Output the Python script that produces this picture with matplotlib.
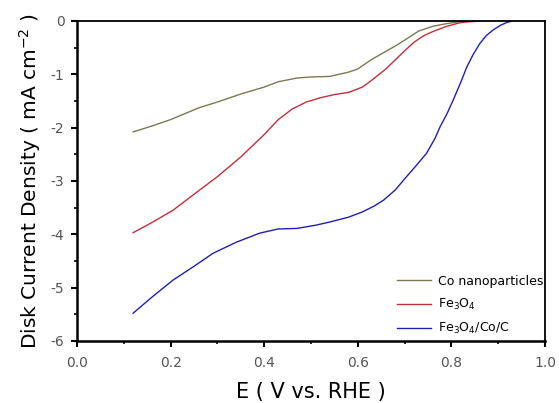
import matplotlib
matplotlib.use("Agg")
import matplotlib.pyplot as plt
from matplotlib.ticker import MultipleLocator, FuncFormatter

plt.rcParams['font.family'] = ['DejaVu Sans']
plt.rcParams['mathtext.fontset'] = 'dejavusans'

co_x = [0.12, 0.16, 0.20, 0.26, 0.30, 0.35, 0.40, 0.43, 0.47, 0.50, 0.54, 0.58, 0.60, 0.63, 0.66, 0.68, 0.70, 0.73, 0.76, 0.79, 0.82, 0.86]
co_y = [-2.08, -1.97, -1.85, -1.63, -1.52, -1.37, -1.24, -1.14, -1.07, -1.05, -1.04, -0.96, -0.90, -0.72, -0.57, -0.47, -0.36, -0.19, -0.10, -0.05, -0.01, 0.0]

fe_x = [0.12, 0.16, 0.205, 0.25, 0.30, 0.35, 0.40, 0.43, 0.46, 0.49, 0.52, 0.55, 0.58, 0.61, 0.63, 0.66, 0.68, 0.70, 0.72, 0.74, 0.76, 0.79, 0.82, 0.86]
fe_y = [-3.97, -3.78, -3.55, -3.25, -2.92, -2.55, -2.13, -1.85, -1.65, -1.52, -1.44, -1.38, -1.34, -1.24, -1.11, -0.90, -0.73, -0.56, -0.40, -0.28, -0.20, -0.10, -0.03, 0.0]

fec_x = [0.12, 0.16, 0.205, 0.25, 0.29, 0.34, 0.39, 0.43, 0.47, 0.51, 0.54, 0.58, 0.61, 0.635, 0.655, 0.68, 0.704, 0.725, 0.747, 0.765, 0.776, 0.79, 0.804, 0.82, 0.833, 0.847, 0.861, 0.875, 0.889, 0.905, 0.918, 0.93]
fec_y = [-5.48, -5.18, -4.86, -4.60, -4.36, -4.15, -3.98, -3.90, -3.89, -3.83, -3.77, -3.68, -3.58, -3.47, -3.36, -3.17, -2.92, -2.71, -2.48, -2.20, -1.98, -1.75, -1.48, -1.15, -0.86, -0.62, -0.42, -0.27, -0.17, -0.08, -0.03, 0.0]

labels = ['Co nanoparticles', 'Fe$_3$O$_4$', 'Fe$_3$O$_4$/Co/C']
colors = ['#7a7a52', '#c0303a', '#2020b0']

fig = plt.figure(figsize=(5.59, 4.03), dpi=100)
ax = fig.add_axes([0.1377, 0.154, 0.8373, 0.794])

ax.plot(co_x, co_y, color=colors[0], lw=1.0, label=labels[0])
ax.plot(fe_x, fe_y, color=colors[1], lw=1.0, label=labels[1])
ax.plot(fec_x, fec_y, color=colors[2], lw=1.0, label=labels[2])

ax.set_xlim(0.0, 1.0)
ax.set_ylim(-6, 0)
ax.xaxis.set_major_locator(MultipleLocator(0.2))
ax.xaxis.set_minor_locator(MultipleLocator(0.1))
ax.yaxis.set_major_locator(MultipleLocator(1))
ax.yaxis.set_minor_locator(MultipleLocator(0.5))
ax.xaxis.set_major_formatter(FuncFormatter(lambda v, p: f"{v:.1f}"))
ax.yaxis.set_major_formatter(FuncFormatter(lambda v, p: f"{int(round(v))}"))

ax.tick_params(which='major', direction='out', length=4, width=1.5, labelsize=10, labelcolor='#555555')
ax.tick_params(which='minor', direction='out', length=2.5, width=1.2)
ax.tick_params(axis='x', which='major', pad=7)
ax.tick_params(axis='y', which='major', pad=5)
ax.tick_params(top=False, right=False, which='both')

for s in ['left', 'bottom']:
    ax.spines[s].set_linewidth(1.8)
for s in ['top', 'right']:
    ax.spines[s].set_linewidth(1.3)

ax.set_xlabel('E ( V vs. RHE )', fontsize=15, va='baseline')
ax.xaxis.set_label_coords(0.5, -0.178)
ax.set_ylabel('Disk Current Density ( mA cm$^{-2}$ )', fontsize=14.5, va='center')
ax.yaxis.set_label_coords(-0.100, 0.5)

leg = ax.legend(loc='lower right', bbox_to_anchor=(1.0, 0.01), frameon=False, fontsize=9,
                handlelength=2.7, handletextpad=0.6, labelspacing=0.75,
                borderaxespad=0.0, borderpad=0.1)

fig.savefig('out.png', dpi=100)
